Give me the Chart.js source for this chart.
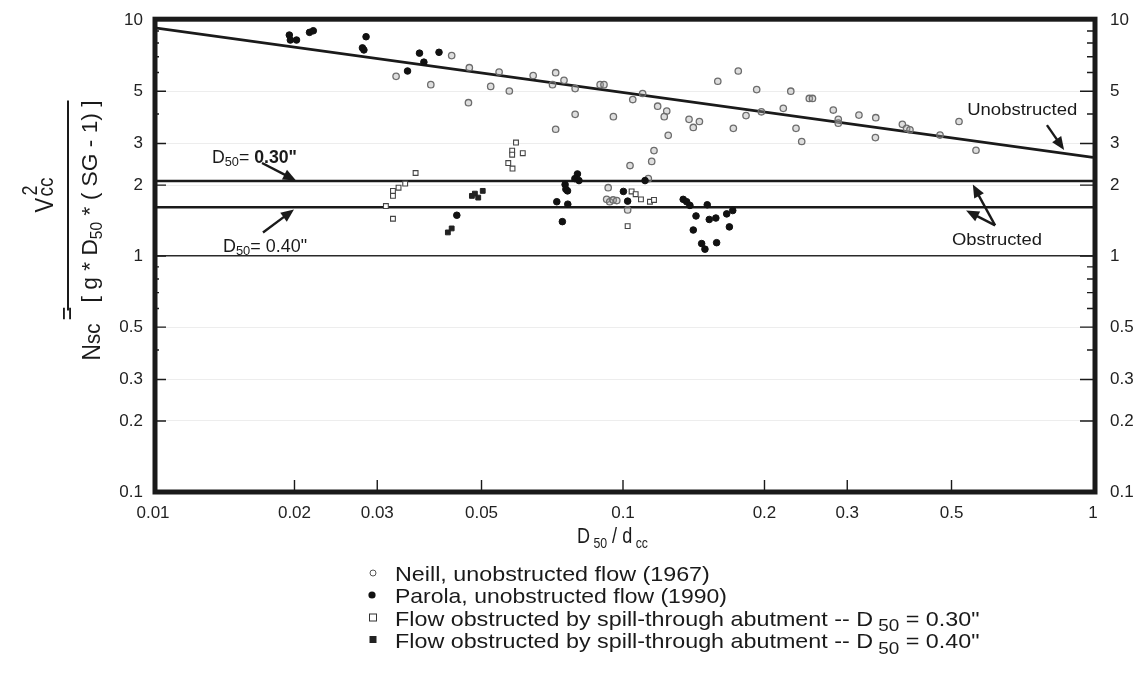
<!DOCTYPE html>
<html>
<head>
<meta charset="utf-8">
<style>
html,body{margin:0;padding:0;background:#ffffff;}
#wrap{width:1137px;height:673px;position:relative;}
</style>
<script src="https://cdn.jsdelivr.net/npm/chart.js@4.4.1/dist/chart.umd.min.js"></script>
</head>
<body>
<div id="wrap"><canvas id="c" width="1137" height="673"></canvas></div>
<script>
// ---- tick values / labels ----
const xTickValues = [0.01, 0.02, 0.03, 0.05, 0.1, 0.2, 0.3, 0.5, 1];
const xTickLabels = ['0.01', '0.02', '0.03', '0.05', '0.1', '0.2', '0.3', '0.5', '1'];
const yTickValues = [0.1, 0.2, 0.3, 0.5, 1, 2, 3, 5, 10];
const yTickLabels = ['0.1', '0.2', '0.3', '0.5', '1', '2', '3', '5', '10'];
const yMinorTicks = [0.4, 0.6, 0.7, 0.8, 0.9, 4, 6, 7, 8, 9];

// ---- Neill, unobstructed flow (1967) ----
const neillX = [0.0432, 0.0329, 0.039, 0.0469, 0.0471, 0.0523, 0.0545, 0.0573, 0.0644, 0.0719,
  0.0708, 0.0749, 0.0791, 0.0894, 0.0911, 0.0791, 0.0719, 0.0954, 0.1049, 0.1101,
  0.1185, 0.1239, 0.1224, 0.1248, 0.1382, 0.1411, 0.1454, 0.1591, 0.1759, 0.1925,
  0.1827, 0.1717, 0.197, 0.2275, 0.2491, 0.253, 0.2193, 0.2334, 0.24, 0.2802,
  0.2871, 0.2871, 0.3177, 0.345, 0.3444, 0.393, 0.4013, 0.4079, 0.4726, 0.5187,
  0.5637, 0.1164, 0.1151, 0.1035, 0.1132, 0.093, 0.0923, 0.0937, 0.0953, 0.097, 0.1023];
const neillY = [7.08, 5.78, 5.33, 4.47, 6.29, 5.24, 6.03, 5.01, 5.83, 5.99,
  5.33, 5.56, 5.13, 5.33, 5.33, 3.99, 3.45, 3.90, 4.61, 4.89,
  4.32, 4.12, 3.90, 3.25, 3.80, 3.51, 3.72, 5.51, 6.09, 5.08,
  3.94, 3.48, 4.09, 5.0, 4.66, 4.66, 4.23, 3.48, 3.06, 4.16,
  3.80, 3.66, 3.96, 3.86, 3.18, 3.62, 3.48, 3.43, 3.26, 3.72,
  2.81, 2.80, 2.52, 2.42, 2.13, 1.95, 1.74, 1.70, 1.73, 1.72, 1.57];

// ---- Parola, unobstructed flow (1990) ----
const parolaX = [0.0195, 0.0196, 0.0202, 0.02153, 0.02193, 0.0284, 0.0279, 0.0281, 0.0369, 0.0406,
  0.0377, 0.0348, 0.0443, 0.08, 0.079, 0.0806, 0.0753, 0.0756, 0.0762, 0.0723,
  0.0763, 0.0743, 0.1002, 0.1023, 0.1114, 0.1343, 0.1366, 0.1388, 0.1511, 0.143,
  0.1526, 0.1576, 0.1662, 0.1712, 0.1684, 0.1411, 0.147, 0.1494, 0.1582];
const parolaY = [8.65, 8.24, 8.24, 8.88, 9.02, 8.51, 7.63, 7.48, 7.25, 7.31,
  6.64, 6.09, 1.49, 2.23, 2.13, 2.09, 2.01, 1.92, 1.89, 1.70,
  1.66, 1.40, 1.88, 1.71, 2.09, 1.74, 1.70, 1.64, 1.65, 1.48,
  1.43, 1.45, 1.51, 1.56, 1.33, 1.29, 1.13, 1.07, 1.14];

// ---- Flow obstructed by spill-through abutment, D50 = 0.30" ----
const obs30X = [0.0362, 0.0344, 0.0333, 0.0324, 0.0324, 0.0313, 0.0324, 0.0592, 0.0581, 0.0581,
  0.0612, 0.057, 0.0582, 0.1043, 0.1064, 0.1092, 0.1141, 0.1164, 0.1023];
const obs30Y = [2.25, 2.03, 1.95, 1.89, 1.80, 1.63, 1.44, 3.03, 2.80, 2.69,
  2.73, 2.48, 2.35, 1.88, 1.83, 1.74, 1.70, 1.73, 1.34];

// ---- Flow obstructed by spill-through abutment, D50 = 0.40" ----
const obs40X = [0.0424, 0.0432, 0.0477, 0.0484, 0.0492, 0.0503];
const obs40Y = [1.26, 1.31, 1.80, 1.84, 1.77, 1.89];

// ---- design curves ----
const unobstructedX = [0.01, 1];
const unobstructedY = [9.3, 2.62];
const obstructed30X = [0.01, 1];
const obstructed30Y = [2.08, 2.08];
const obstructed40X = [0.01, 1];
const obstructed40Y = [1.61, 1.61];

const FONT = "'Liberation Sans', Arial, Helvetica, sans-serif";
const pts = (xs, ys) => xs.map((x, i) => ({ x: x, y: ys[i] }));

function fontStr(s) { return (s.bold ? 'bold ' : '') + s.size + 'px ' + FONT; }

function drawRich(ctx, segs, x, y, opts) {
  opts = opts || {};
  let w = 0;
  for (const s of segs) { ctx.font = fontStr(s); s._w = ctx.measureText(s.t).width; w += s._w; }
  const sx = opts.width ? opts.width / w : (opts.sx || 1);
  ctx.save();
  ctx.translate(x, y);
  ctx.scale(sx, 1);
  ctx.textAlign = 'left';
  ctx.textBaseline = 'alphabetic';
  let cx = opts.align === 'center' ? -w / 2 : 0;
  for (const s of segs) {
    ctx.font = fontStr(s);
    ctx.fillStyle = s.color || '#1a1a1a';
    ctx.fillText(s.t, cx, s.dy || 0);
    cx += s._w;
  }
  ctx.restore();
}

function arrow(ctx, x1, y1, x2, y2, head, hw) {
  head = head || 13; hw = hw || 5.5;
  const a = Math.atan2(y2 - y1, x2 - x1);
  const c = Math.cos(a), s = Math.sin(a);
  ctx.beginPath();
  ctx.moveTo(x1, y1);
  ctx.lineTo(x2 - c * head * 0.7, y2 - s * head * 0.7);
  ctx.lineWidth = 2.4;
  ctx.stroke();
  ctx.beginPath();
  ctx.moveTo(x2, y2);
  ctx.lineTo(x2 - head * c + hw * s, y2 - head * s - hw * c);
  ctx.lineTo(x2 - head * c - hw * s, y2 - head * s + hw * c);
  ctx.closePath();
  ctx.fill();
}

const decor = {
  id: 'decor',
  afterDraw(chart) {
    const ctx = chart.ctx, ca = chart.chartArea;
    const X = v => chart.scales.x.getPixelForValue(v);
    const Y = v => chart.scales.y.getPixelForValue(v);
    ctx.save();
    ctx.strokeStyle = '#1a1a1a';
    ctx.fillStyle = '#1a1a1a';

    // tick marks (inside)
    ctx.lineWidth = 1.4;
    ctx.beginPath();
    for (const v of yTickValues) {
      if (v <= 0.1 || v >= 10) continue;
      const y = Y(v);
      ctx.moveTo(ca.left, y); ctx.lineTo(ca.left + 13, y);
      ctx.moveTo(ca.right, y); ctx.lineTo(ca.right - 13, y);
    }
    for (const v of yMinorTicks) {
      const y = Y(v);
      ctx.moveTo(ca.left, y); ctx.lineTo(ca.left + 6, y);
      ctx.moveTo(ca.right, y); ctx.lineTo(ca.right - 6, y);
    }
    for (const v of xTickValues) {
      if (v <= 0.01 || v >= 1) continue;
      const x = X(v);
      ctx.moveTo(x, ca.bottom); ctx.lineTo(x, ca.bottom - 12);
    }
    ctx.stroke();

    // plot frame
    ctx.lineWidth = 5;
    ctx.strokeRect(ca.left + 2, ca.top - 1, ca.right - ca.left, ca.bottom - ca.top + 1);

    // annotations
    drawRich(ctx, [{ t: 'Unobstructed', size: 16 }], X(0.54), Y(3.95), { width: 110 });
    arrow(ctx, X(0.798), Y(3.59), X(0.868), Y(2.82));
    drawRich(ctx, [{ t: 'Obstructed', size: 16 }], X(0.501), Y(1.11), { width: 90 });
    arrow(ctx, X(0.619), Y(1.35), X(0.555), Y(2.01));
    arrow(ctx, X(0.619), Y(1.35), X(0.537), Y(1.56));

    drawRich(ctx, [{ t: 'D', size: 18 }, { t: '50', size: 13, dy: 3 }, { t: '= ', size: 18 }, { t: '0.30"', size: 18, bold: true }],
      X(0.01335), Y(2.48), { width: 85 });
    arrow(ctx, X(0.01706), Y(2.48), X(0.02015), Y(2.09));
    drawRich(ctx, [{ t: 'D', size: 18 }, { t: '50', size: 13, dy: 3 }, { t: '= 0.40"', size: 18 }],
      X(0.01409), Y(1.04), { width: 84 });
    arrow(ctx, X(0.01714), Y(1.26), X(0.01995), Y(1.576));

    // x-axis title
    drawRich(ctx, [{ t: 'D', size: 22 }, { t: ' 50', size: 15, dy: 5 }, { t: ' / d', size: 22 }, { t: ' cc', size: 15, dy: 5 }],
      X(0.0798), ca.bottom + 51, { width: 71 });

    // y-axis title (rotated)
    ctx.save();
    ctx.translate(68, Y(1.64));
    ctx.rotate(-Math.PI / 2);
    ctx.lineWidth = 2;
    ctx.beginPath(); ctx.moveTo(-105, 0); ctx.lineTo(105, 0); ctx.stroke();
    ctx.scale(1, 1.2);
    drawRich(ctx, [{ t: 'V', size: 22 }], -7, -12.5);
    drawRich(ctx, [{ t: 'cc', size: 19 }], 9, -12.5);
    drawRich(ctx, [{ t: '2', size: 18 }], 10, -26);
    drawRich(ctx, [{ t: '[ g * D', size: 19 }, { t: '50', size: 13, dy: 4 }, { t: ' * ( SG - 1) ]', size: 19 }], -97, 24, { width: 202 });
    drawRich(ctx, [{ t: 'N', size: 21 }, { t: 'sc', size: 19 }], -155, 26.5, { width: 37 });
    drawRich(ctx, [{ t: '=', size: 21 }], -115, 6, { width: 14 });
    ctx.restore();

    // legend
    const lx = 373, ly = [573, 595, 618, 640];
    ctx.lineWidth = 1;
    ctx.strokeStyle = '#555';
    ctx.beginPath(); ctx.arc(lx, ly[0], 3, 0, Math.PI * 2); ctx.stroke();
    ctx.fillStyle = '#111';
    ctx.beginPath(); ctx.arc(lx - 1, ly[1], 3.6, 0, Math.PI * 2); ctx.fill();
    ctx.strokeStyle = '#333';
    ctx.strokeRect(lx - 3.5, ly[2] - 4, 7, 7);
    ctx.fillStyle = '#222';
    ctx.fillRect(lx - 3.5, ly[3] - 4, 7, 7);
    ctx.fillStyle = '#1a1a1a';
    const tx = 395, lsx = 1.11;
    drawRich(ctx, [{ t: 'Neill, unobstructed flow (1967)', size: 21 }], tx, ly[0] + 7.5, { sx: lsx });
    drawRich(ctx, [{ t: 'Parola, unobstructed flow (1990)', size: 21 }], tx, ly[1] + 7.5, { sx: lsx * 0.985 });
    drawRich(ctx, [{ t: 'Flow obstructed by spill-through abutment -- D', size: 21 }, { t: ' 50', size: 17, dy: 5 }, { t: ' = 0.30"', size: 21 }],
      tx, ly[2] + 7.5, { sx: lsx });
    drawRich(ctx, [{ t: 'Flow obstructed by spill-through abutment -- D', size: 21 }, { t: ' 50', size: 17, dy: 6 }, { t: ' = 0.40"', size: 21 }],
      tx, ly[3] + 7.5, { sx: lsx });
    ctx.restore();
  }
};

const tickFont = { family: FONT, size: 17 };

new Chart(document.getElementById('c'), {
  type: 'scatter',
  data: {
    datasets: [
      { label: 'Unobstructed', type: 'line', data: pts(unobstructedX, unobstructedY), borderColor: '#1a1a1a', borderWidth: 2.6, pointRadius: 0, fill: false, order: 10 },
      { label: 'Obstructed D50 = 0.30"', type: 'line', data: pts(obstructed30X, obstructed30Y), borderColor: '#1a1a1a', borderWidth: 2.4, pointRadius: 0, fill: false, order: 10 },
      { label: 'Obstructed D50 = 0.40"', type: 'line', data: pts(obstructed40X, obstructed40Y), borderColor: '#1a1a1a', borderWidth: 2.4, pointRadius: 0, fill: false, order: 10 },
      { label: 'Neill, unobstructed flow (1967)', data: pts(neillX, neillY), pointStyle: 'circle', pointRadius: 3.2, borderWidth: 1.3, borderColor: '#6d6d6d', backgroundColor: 'rgba(160,160,160,0.35)', order: 4 },
      { label: 'Parola, unobstructed flow (1990)', data: pts(parolaX, parolaY), pointStyle: 'circle', pointRadius: 3.3, borderWidth: 1, borderColor: '#111', backgroundColor: '#111', order: 1 },
      { label: 'Flow obstructed -- D50 = 0.30"', data: pts(obs30X, obs30Y), pointStyle: 'rect', pointRadius: 3.4, borderWidth: 1.1, borderColor: '#444', backgroundColor: '#ffffff', order: 3 },
      { label: 'Flow obstructed -- D50 = 0.40"', data: pts(obs40X, obs40Y), pointStyle: 'rect', pointRadius: 3.4, borderWidth: 1, borderColor: '#222', backgroundColor: '#222', order: 2 }
    ]
  },
  options: {
    responsive: false,
    animation: false,
    layout: { padding: { top: 8, left: 0, right: 0, bottom: 0 } },
    plugins: { legend: { display: false }, tooltip: { enabled: false } },
    scales: {
      x: {
        type: 'logarithmic', min: 0.01, max: 1, position: 'bottom',
        afterBuildTicks: s => { s.ticks = xTickValues.map(v => ({ value: v })); },
        afterFit: s => { s.height = 181; },
        grid: { display: false }, border: { display: false },
        ticks: { autoSkip: false, maxRotation: 0, minRotation: 0, padding: 3, color: '#222', font: tickFont,
          callback: (v, i) => xTickLabels[i] }
      },
      y: {
        type: 'logarithmic', min: 0.1, max: 10, position: 'left',
        afterBuildTicks: s => { s.ticks = yTickValues.map(v => ({ value: v })); },
        afterFit: s => { s.width = 153; },
        grid: { drawTicks: false,
          color: c => (c.tick && c.tick.value === 1) ? '#2a2a2a' : 'rgba(0,0,0,0.07)',
          lineWidth: c => (c.tick && c.tick.value === 1) ? 1.6 : 1 },
        border: { display: false },
        ticks: { autoSkip: false, padding: 10, color: '#222', font: tickFont, callback: (v, i) => yTickLabels[i] }
      },
      y2: {
        type: 'logarithmic', min: 0.1, max: 10, position: 'right',
        afterBuildTicks: s => { s.ticks = yTickValues.map(v => ({ value: v })); },
        afterFit: s => { s.width = 44; },
        grid: { display: false }, border: { display: false },
        ticks: { autoSkip: false, padding: 9, color: '#222', font: tickFont, callback: (v, i) => yTickLabels[i] }
      }
    }
  },
  plugins: [decor]
});
</script>
</body>
</html>
